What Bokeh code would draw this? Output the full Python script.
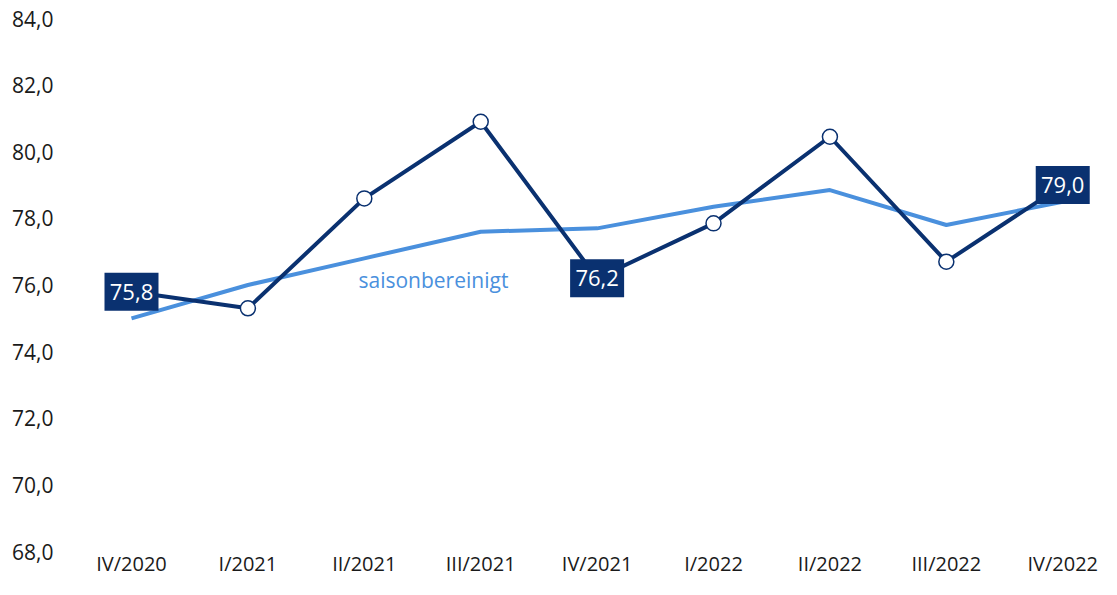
from bokeh.plotting import figure
from bokeh.models import Range1d, FixedTicker, Label, ColumnDataSource
from bokeh.embed import file_html
from bokeh.resources import INLINE
from bokeh.core.properties import value

quarters = ["IV/2020", "I/2021", "II/2021", "III/2021", "IV/2021",
            "I/2022", "II/2022", "III/2022", "IV/2022"]
original = [75.8, 75.3, 78.6, 80.9, 76.2, 77.85, 80.45, 76.7, 79.0]
seasonal = [75.0, 76.0, 76.8, 77.6, 77.7, 78.35, 78.85, 77.8, 78.5]
y_ticks = [68, 70, 72, 74, 76, 78, 80, 82, 84]
boxed_idx = [0, 4, 8]

NAVY = "#0a3170"
LIGHT = "#4a90dd"
FONT = "Open Sans"

x = list(range(len(quarters)))

p = figure(width=1101, height=579, output_backend="svg", toolbar_location=None,
           x_range=Range1d(-0.524, 8.333), y_range=Range1d(68, 84),
           min_border_top=18, min_border_bottom=0, min_border_left=70, min_border_right=0)
p.outline_line_color = None
p.grid.visible = False
p.background_fill_color = "white"
p.border_fill_color = "white"

p.yaxis.ticker = FixedTicker(ticks=y_ticks)
p.yaxis.major_label_overrides = {t: f"{t:.1f}".replace(".", ",") for t in y_ticks}
p.xaxis.ticker = FixedTicker(ticks=x)
p.xaxis.major_label_overrides = {i: q for i, q in enumerate(quarters)}
for ax in (p.xaxis, p.yaxis):
    ax.axis_line_color = None
    ax.major_tick_line_color = None
    ax.minor_tick_line_color = None
    ax.major_tick_out = 0
    ax.major_tick_in = 0
    ax.minor_tick_out = 0
    ax.minor_tick_in = 0
    ax.major_label_text_font = FONT
    ax.major_label_text_color = "#1a1a1a"
p.yaxis.major_label_text_font_size = "21px"
p.xaxis.major_label_text_font_size = "20px"
p.yaxis.major_label_standoff = 17
p.xaxis.major_label_standoff = -2

p.line(x, seasonal, line_color=LIGHT, line_width=4)
p.line(x, original, line_color=NAVY, line_width=4)

circ_idx = [i for i in x if i not in boxed_idx]
p.scatter([x[i] for i in circ_idx], [original[i] for i in circ_idx], size=15,
          fill_color="white", line_color=NAVY, line_width=1.5)

bsrc = ColumnDataSource(dict(
    x=[x[i] for i in boxed_idx],
    y=[original[i] for i in boxed_idx],
    t=[f"{original[i]:.1f}".replace(".", ",") for i in boxed_idx]))
p.rect("x", "y", width=54, height=38, width_units="screen", height_units="screen",
       fill_color=NAVY, line_color=None, source=bsrc)
p.text("x", "y", text="t", source=bsrc, text_color="white", text_align="center",
       text_baseline="middle", text_font=value(FONT), text_font_size="22px")

p.add_layout(Label(x=1.95, y=76.15, text="saisonbereinigt", text_color=LIGHT,
                   text_font=FONT, text_font_size="21px", text_baseline="middle"))

open("out.html", "w").write(file_html(p, INLINE))
